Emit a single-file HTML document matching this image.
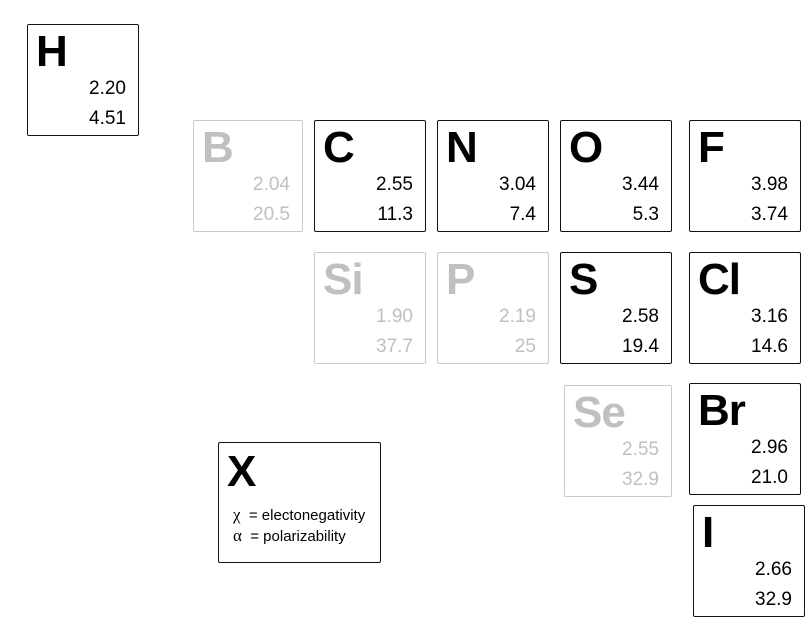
<!DOCTYPE html>
<html><head><meta charset="utf-8">
<style>
body{margin:0;width:810px;height:631px;background:#fff;position:relative;overflow:hidden;font-family:"Liberation Sans",sans-serif}
.box{position:absolute;border:1.6px solid #111;box-sizing:border-box;border-radius:2px}
.box.grey{border-color:#c8c8c8;color:#c0c0c0}
.sym{position:absolute;left:8px;top:2px;font-weight:bold;font-size:44px;line-height:50px;letter-spacing:-1px}
.v{position:absolute;right:12px;font-size:19px;line-height:22px;text-align:right}
.legend .sym{font-size:44px;left:8px;top:4px}
.legend .t{position:absolute;left:14px;font-size:15px;line-height:20px}
</style></head><body>
<div id="root"></div>
<div class="box legend" style="left:218px;top:442px;width:163px;height:121px">
 <div class="sym">X</div>
 <div class="t" style="top:62px"><span style="font-family:'Liberation Serif',serif;font-size:17px">χ</span>&nbsp; = electonegativity</div>
 <div class="t" style="top:83px"><span style="font-family:'Liberation Serif',serif;font-size:17px">α</span>&nbsp; = polarizability</div>
</div>
<script>
const symbols=["H","B","C","N","O","F","Si","P","S","Cl","Se","Br","I"];
const electroneg=["2.20","2.04","2.55","3.04","3.44","3.98","1.90","2.19","2.58","3.16","2.55","2.96","2.66"];
const polariz=["4.51","20.5","11.3","7.4","5.3","3.74","37.7","25","19.4","14.6","32.9","21.0","32.9"];
const greyed=[false,true,false,false,false,false,true,true,false,false,true,false,false];
const boxX=[27,193,314,437,560,689,314,437,560,689,564,689,693];
const boxY=[24,120,120,120,120,120,252,252,252,252,385,383,505];
const boxW=[112,110,112,112,112,112,112,112,112,112,108,112,112];
const root=document.getElementById('root');
for(let i=0;i<symbols.length;i++){
 const b=document.createElement('div');
 b.className='box'+(greyed[i]?' grey':'');
 b.style.left=boxX[i]+'px';b.style.top=boxY[i]+'px';b.style.width=boxW[i]+'px';b.style.height='112px';
 
 
 const s=document.createElement('div');s.className='sym';s.textContent=symbols[i];
 
 
 const a=document.createElement('div');a.className='v';a.style.top='53px';a.textContent=electroneg[i];
 
 
 const p=document.createElement('div');p.className='v';p.style.top='83px';p.textContent=polariz[i];
 
 
 b.appendChild(s);b.appendChild(a);b.appendChild(p);root.appendChild(b);
}
</script>
</body></html>
